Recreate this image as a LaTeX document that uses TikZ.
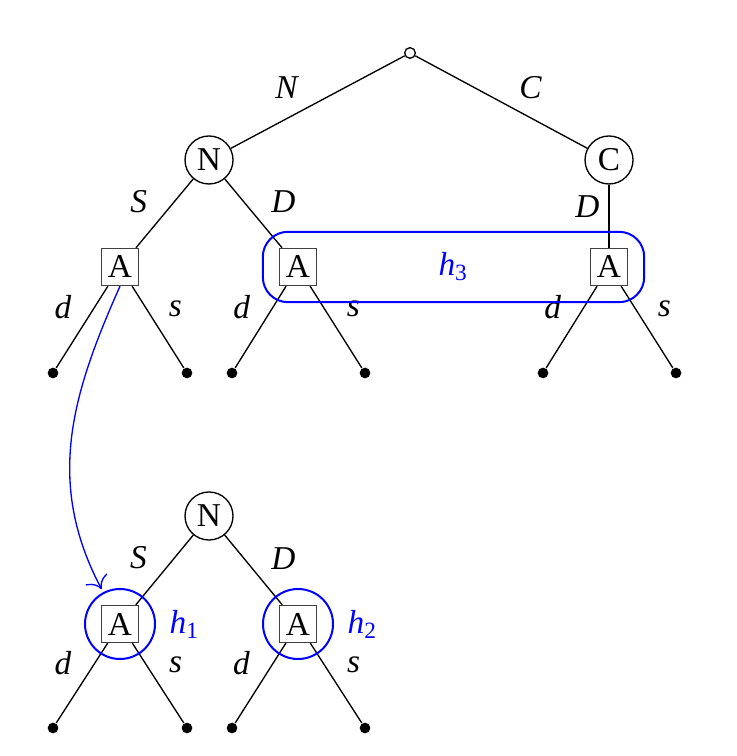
\documentclass[tikz,border=0pt]{standalone}
\usepackage{fontspec}
\setmainfont{Liberation Serif}
\usetikzlibrary{arrows.meta,positioning,fit}
\tikzset{
  root/.style={draw,circle,inner sep=0pt,minimum size=3.2pt},
  nature/.style={draw,circle,inner sep=0pt,minimum size=14.4pt},
  agent/.style={draw=black!75,inner sep=0pt,minimum size=11.1pt},
  leaf/.style={fill,circle,inner sep=0pt,minimum size=3.2pt},
  act/.style={font=\itshape,inner sep=0pt},
  info/.style={draw=blue,line width=0.6pt},
  hlab/.style={text=blue,inner sep=0pt},
  hint/.style={blue,-{To[length=3.5pt]}}
}
\newcommand{\hset}[1]{\textit{h}\textsubscript{#1}}

\begin{document}
\begin{tikzpicture}[x=0.3pt,y=-0.3pt]
\useasboundingbox (0,0) rectangle (736,756);
\node[root] (r) at (410,53) {};
\node[nature] (N) at (209,160) {N};
\node[nature] (C) at (609,160) {C};
\node[agent] (A1) at (120,267) {A};
\node[agent] (A2) at (298,267) {A};
\node[agent] (A3) at (609,267) {A};
\node[leaf] (l1) at (53,373) {};
\node[leaf] (l2) at (187,373) {};
\node[leaf] (l3) at (232,373) {};
\node[leaf] (l4) at (365,373) {};
\node[leaf] (l5) at (543,373) {};
\node[leaf] (l6) at (676,373) {};
\draw (r) -- node[act,above left=0.9pt and 5.85pt] {N} (N);
\draw (r) -- node[act,above right=0.9pt and 5.2pt] {C} (C);
\draw (N) -- node[act,above left=0pt and 5.1pt] {S} (A1);
\draw (N) -- node[act,above right=0pt and 5.2pt] {D} (A2);
\draw (C) -- node[act,above left=-0.45pt and 2.7pt] {D} (A3);
\draw (A1) -- node[act,above left=2.3pt and 3pt] {d} (l1);
\draw (A1) -- node[act,above right=2.9pt and 3.1pt] {s} (l2);
\draw (A2) -- node[act,above left=2.3pt and 3pt] {d} (l3);
\draw (A2) -- node[act,above right=2.9pt and 3.1pt] {s} (l4);
\draw (A3) -- node[act,above left=2.3pt and 3pt] {d} (l5);
\draw (A3) -- node[act,above right=2.9pt and 3.1pt] {s} (l6);
\node[info,rounded corners=7.5pt,fit=(A2)(A3),inner sep=4.8pt] (H3) {};
\node[hlab] (h3) at (H3.center) {\hset{3}};

\node[nature] (N2) at (209,516) {N};
\node[agent] (B1) at (120,624) {A};
\node[agent] (B2) at (298,624) {A};
\node[leaf] (m1) at (53,728) {};
\node[leaf] (m2) at (187,728) {};
\node[leaf] (m3) at (232,728) {};
\node[leaf] (m4) at (365,728) {};
\draw (N2) -- node[act,above left=0pt and 5.1pt] {S} (B1);
\draw (N2) -- node[act,above right=0pt and 5.2pt] {D} (B2);
\draw (B1) -- node[act,above left=2.3pt and 3pt] {d} (m1);
\draw (B1) -- node[act,above right=2.9pt and 3.1pt] {s} (m2);
\draw (B2) -- node[act,above left=2.3pt and 3pt] {d} (m3);
\draw (B2) -- node[act,above right=2.9pt and 3.1pt] {s} (m4);
\node[info,circle,minimum size=21pt] (I1) at (B1) {};
\node[info,circle,minimum size=21pt] (I2) at (B2) {};
\node[hlab,right=3.9pt of I1] (h1) {\hset{1}};
\node[hlab,right=3.9pt of I2] (h2) {\hset{2}};
\draw[hint,shorten >=1pt] (A1.south) .. controls (72,394) and (45,482) .. (I1);
\end{tikzpicture}
\end{document}
